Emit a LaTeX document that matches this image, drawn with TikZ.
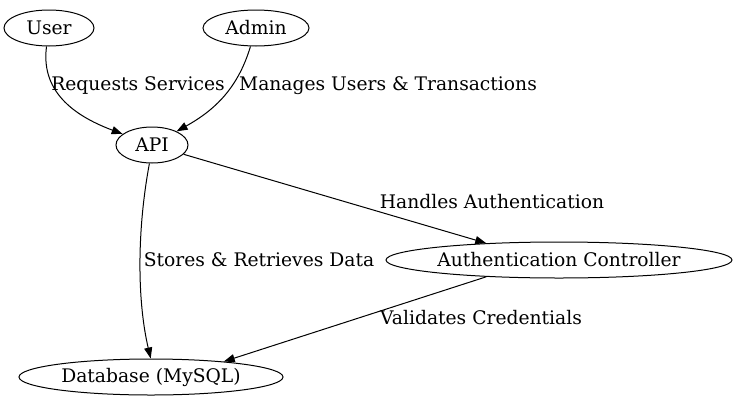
\documentclass[tikz,border=0pt]{standalone}
\usepackage{fontspec}
\setmainfont{DejaVu Serif}
\usetikzlibrary{shapes.geometric,arrows.meta}
\begin{document}
\begin{tikzpicture}[x=1pt,y=-1pt,
  gnode/.style={draw,line width=1pt,ellipse,inner sep=0pt,minimum height=36pt,font=\fontsize{18.7}{22}\selectfont},
  edge/.style={-{Triangle[length=11pt,width=8pt]},line width=1pt},
  elabel/.style={font=\fontsize{18.7}{22}\selectfont,inner sep=0pt}]
\useasboundingbox (0,0) rectangle (738,407);
\node[gnode,minimum width=90pt] (user) at (49,28) {User};
\node[gnode,minimum width=106pt] (admin) at (256,28) {Admin};
\node[gnode,minimum width=72pt] (api) at (152,145) {API};
\node[gnode,minimum width=346pt] (auth) at (559,260) {Authentication Controller};
\node[gnode,minimum width=264pt] (db) at (151,377) {Database (MySQL)};
\draw[edge] (user) .. controls (40,95) and (80,118) .. (api);
\draw[edge] (admin) .. controls (238,88) and (215,110) .. (api);
\draw[edge] (api) -- (auth.167.5);
\draw[edge] (api.-98) .. controls (137,230) and (137,300) .. (db.91);
\draw[edge] (auth.193) -- (db.12);
\node[elabel] (l1) at (138,86) {Requests Services};
\node[elabel] (l2) at (388,86) {Manages Users \& Transactions};
\node[elabel] (l3) at (492,202) {Handles Authentication};
\node[elabel] (l4) at (259,260) {Stores \& Retrieves Data};
\node[elabel] (l5) at (481,318) {Validates Credentials};
\end{tikzpicture}
\end{document}
